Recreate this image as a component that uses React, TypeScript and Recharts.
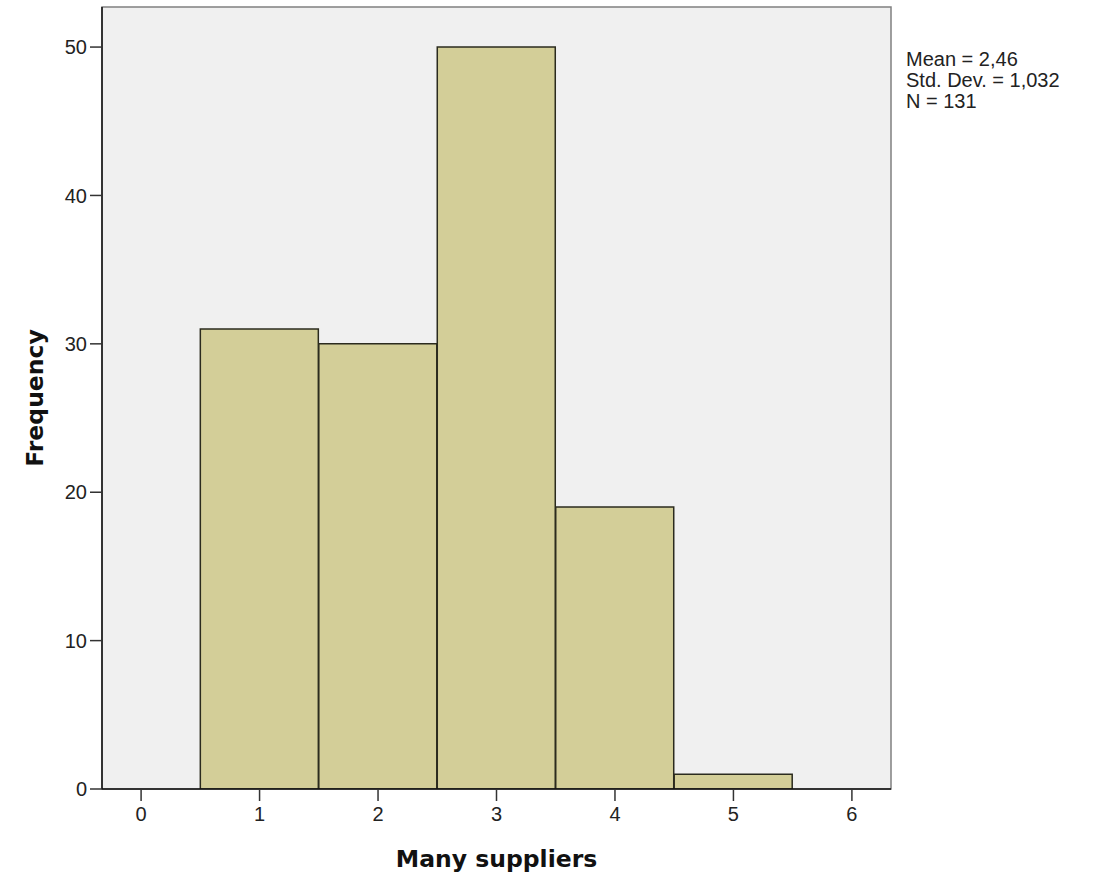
import React from 'react';
import { ComposedChart, Bar, XAxis, YAxis, CartesianGrid, ReferenceArea } from 'recharts';

// histogram bins (centre of bin) and counts
const binCentres = [1, 2, 3, 4, 5];
const counts = [31, 30, 50, 19, 1];
const xTicks = [0, 1, 2, 3, 4, 5, 6];
const yTicks = [0, 10, 20, 30, 40, 50];
const xDomain = [-0.33, 6.33];
const yDomain = [0, 52.7];
const statLines = ['Mean = 2,46', 'Std. Dev. = 1,032', 'N = 131'];

const data = binCentres.map((x, i) => ({ x, freq: counts[i] }));

const tickFont = { fontFamily: 'Liberation Sans', fontSize: 20, fill: '#222' };

const FrequencyLabel = (props: any) => {
  const { viewBox } = props;
  const cx = 35;
  const cy = viewBox.y + viewBox.height / 2;
  return (
    <text
      x={cx}
      y={cy}
      transform={`rotate(-90, ${cx}, ${cy})`}
      textAnchor="middle"
      dominantBaseline="central"
      style={{ fontFamily: 'DejaVu Sans', fontSize: 23.5, fontWeight: 'bold', fill: '#111' }}
    >
      Frequency
    </text>
  );
};

const App: React.FC = () => {
  return (
    <div style={{ position: 'absolute', left: 0, top: 0, width: 1094, height: 881, background: '#fff' }}>
      <ComposedChart
        width={1094}
        height={881}
        data={data}
        margin={{ top: 7, right: 203, left: 0, bottom: 0 }}
        barCategoryGap={0}
        barGap={0}
      >
        <CartesianGrid horizontal={false} vertical={false} fill="#f0f0f0" />
        <ReferenceArea
          x1={xDomain[0]}
          x2={xDomain[1]}
          y1={yDomain[0]}
          y2={yDomain[1]}
          fill="none"
          fillOpacity={0}
          stroke="#808080"
          strokeWidth={1.5}
        />
        <XAxis
          dataKey="x"
          type="number"
          domain={xDomain}
          ticks={xTicks}
          allowDataOverflow
          height={92}
          tickSize={12}
          tickMargin={6}
          tick={tickFont}
          axisLine={{ stroke: '#111', strokeWidth: 1.5 }}
          tickLine={{ stroke: '#333', strokeWidth: 1.5 }}
          label={{
            value: 'Many suppliers',
            position: 'insideBottom',
            offset: 14,
            style: { fontFamily: 'DejaVu Sans', fontSize: 23.5, fontWeight: 'bold', fill: '#111' },
          }}
        />
        <YAxis
          type="number"
          domain={yDomain}
          ticks={yTicks}
          allowDataOverflow
          width={102}
          tickSize={12}
          tickMargin={3}
          tick={tickFont}
          axisLine={{ stroke: '#111', strokeWidth: 1.5 }}
          tickLine={{ stroke: '#333', strokeWidth: 1.5 }}
          label={<FrequencyLabel />}
        />
        <Bar
          dataKey="freq"
          fill="#d3ce98"
          stroke="#2b2b1e"
          strokeWidth={1.5}
          isAnimationActive={false}
        />
      </ComposedChart>
      <div
        style={{
          position: 'absolute',
          left: 906,
          top: 49,
          fontFamily: 'Liberation Sans',
          fontSize: 20,
          lineHeight: '21px',
          color: '#222',
          whiteSpace: 'nowrap',
        }}
      >
        {statLines.map((s) => (
          <div key={s}>{s}</div>
        ))}
      </div>
    </div>
  );
};

export default App;
